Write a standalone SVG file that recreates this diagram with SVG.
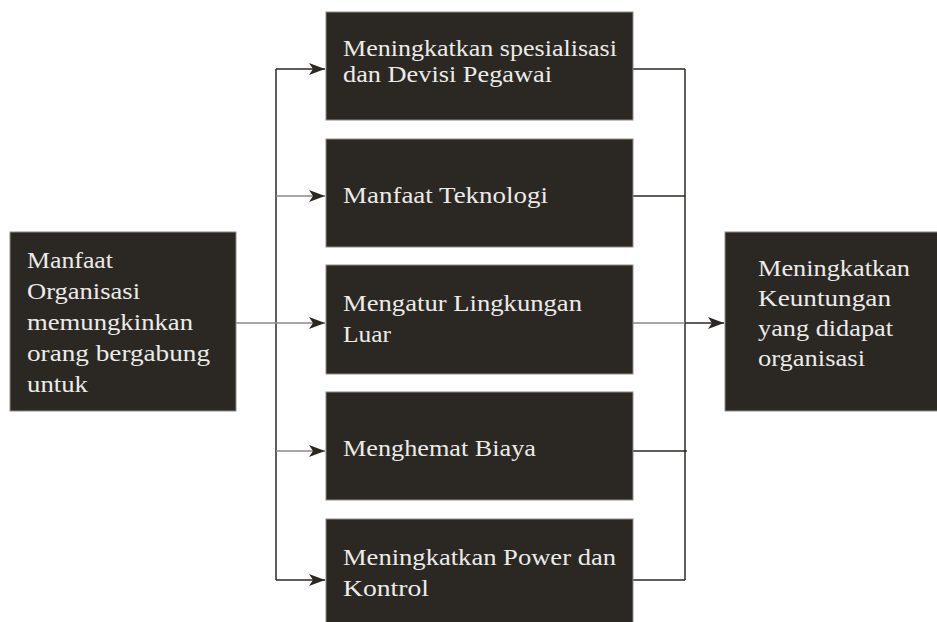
<svg xmlns="http://www.w3.org/2000/svg" width="937" height="622" viewBox="0 0 937 622">
  <defs>
    <marker id="arrow" markerWidth="16" markerHeight="12" refX="16" refY="6" orient="auto" markerUnits="userSpaceOnUse">
      <path d="M0,0 L16,6 L0,12 L4,6 Z" fill="#2b2823"/>
    </marker>
  </defs>
  <style>
    .box { fill: #2b2823; stroke: #8e8c88; stroke-width: 1; }
    .lbl { font-family: "Liberation Serif", "DejaVu Serif", serif; font-size: 23px; fill: #ecebe8; }
    .ln { fill: none; stroke: #2b2823; stroke-width: 1.5; }
    .lt { fill: none; stroke: #8a8a8a; stroke-width: 1.5; }
  </style>
  <rect width="937" height="622" fill="#ffffff"/>

  <!-- connectors -->
  <g id="connectors">
    <!-- fan-out on the left -->
    <line class="ln" x1="276" y1="69" x2="276" y2="580"/>
    <line class="lt" x1="236" y1="323" x2="276" y2="323"/>
    <line class="ln" x1="276" y1="69" x2="325" y2="69" marker-end="url(#arrow)"/>
    <line class="lt" x1="276" y1="196" x2="325" y2="196" marker-end="url(#arrow)"/>
    <line class="lt" x1="276" y1="323" x2="325" y2="323" marker-end="url(#arrow)"/>
    <line class="lt" x1="276" y1="451" x2="325" y2="451" marker-end="url(#arrow)"/>
    <line class="ln" x1="276" y1="580" x2="325" y2="580" marker-end="url(#arrow)"/>
    <!-- fan-in on the right -->
    <line class="ln" x1="685" y1="69" x2="685" y2="580"/>
    <line class="ln" x1="633" y1="69" x2="685" y2="69"/>
    <line class="ln" x1="633" y1="196" x2="685" y2="196"/>
    <line class="lt" x1="633" y1="323" x2="685" y2="323"/>
    <line class="ln" x1="685" y1="323" x2="724" y2="323" marker-end="url(#arrow)"/>
    <line class="ln" x1="633" y1="451" x2="687" y2="451"/>
    <line class="ln" x1="633" y1="580" x2="685" y2="580"/>
  </g>

  <!-- source node -->
  <g id="node-source">
    <rect class="box" x="10" y="232" width="226" height="179"/>
    <text class="lbl" x="27" y="268" textLength="86" lengthAdjust="spacingAndGlyphs">Manfaat</text>
    <text class="lbl" x="27" y="299" textLength="113" lengthAdjust="spacingAndGlyphs">Organisasi</text>
    <text class="lbl" x="27" y="330" textLength="166" lengthAdjust="spacingAndGlyphs">memungkinkan</text>
    <text class="lbl" x="27" y="361" textLength="183" lengthAdjust="spacingAndGlyphs">orang bergabung</text>
    <text class="lbl" x="27" y="392" textLength="61" lengthAdjust="spacingAndGlyphs">untuk</text>
  </g>

  <g id="node-spesialisasi">
    <rect class="box" x="326" y="12" width="307" height="108"/>
    <text class="lbl" x="343" y="56" textLength="274" lengthAdjust="spacingAndGlyphs">Meningkatkan spesialisasi</text>
    <text class="lbl" x="343" y="82" textLength="209" lengthAdjust="spacingAndGlyphs">dan Devisi Pegawai</text>
  </g>

  <g id="node-teknologi">
    <rect class="box" x="326" y="139" width="307" height="108"/>
    <text class="lbl" x="343" y="203" textLength="205" lengthAdjust="spacingAndGlyphs">Manfaat Teknologi</text>
  </g>

  <g id="node-lingkungan">
    <rect class="box" x="326" y="265" width="307" height="109"/>
    <text class="lbl" x="343" y="311" textLength="239" lengthAdjust="spacingAndGlyphs">Mengatur Lingkungan</text>
    <text class="lbl" x="343" y="342" textLength="48" lengthAdjust="spacingAndGlyphs">Luar</text>
  </g>

  <g id="node-biaya">
    <rect class="box" x="326" y="392" width="307" height="108"/>
    <text class="lbl" x="343" y="456" textLength="193" lengthAdjust="spacingAndGlyphs">Menghemat Biaya</text>
  </g>

  <g id="node-power">
    <rect class="box" x="326" y="519" width="307" height="110"/>
    <text class="lbl" x="343" y="565" textLength="273" lengthAdjust="spacingAndGlyphs">Meningkatkan Power dan</text>
    <text class="lbl" x="343" y="596" textLength="86" lengthAdjust="spacingAndGlyphs">Kontrol</text>
  </g>

  <!-- outcome node -->
  <g id="node-keuntungan">
    <rect class="box" x="725" y="232" width="220" height="179"/>
    <text class="lbl" x="758" y="276" textLength="152" lengthAdjust="spacingAndGlyphs">Meningkatkan</text>
    <text class="lbl" x="758" y="306" textLength="133" lengthAdjust="spacingAndGlyphs">Keuntungan</text>
    <text class="lbl" x="758" y="336" textLength="135" lengthAdjust="spacingAndGlyphs">yang didapat</text>
    <text class="lbl" x="758" y="366" textLength="107" lengthAdjust="spacingAndGlyphs">organisasi</text>
  </g>
</svg>
